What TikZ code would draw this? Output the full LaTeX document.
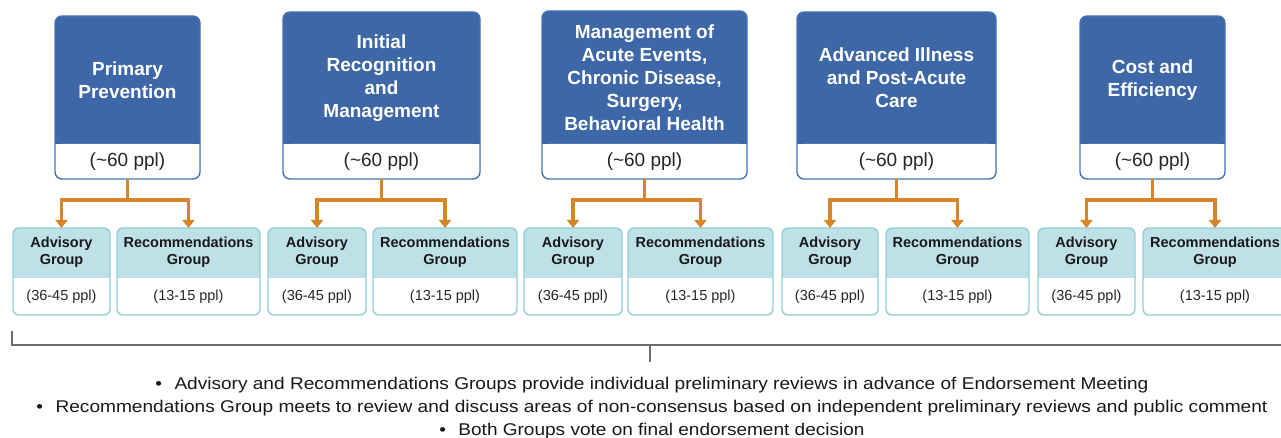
\documentclass[tikz,border=0pt]{standalone}
\usepackage{fontspec}
\setmainfont{Liberation Sans}
\usetikzlibrary{arrows.meta,calc}
\definecolor{topblue}{RGB}{61,103,166}
\definecolor{topedge}{RGB}{72,114,182}
\definecolor{lightfill}{RGB}{190,224,231}
\definecolor{lightedge}{RGB}{150,205,216}
\definecolor{conncol}{RGB}{214,134,40}
\definecolor{brkcol}{RGB}{110,110,110}
\tikzset{
 tbfill/.style={rectangle, fill=topblue, rounded corners=7, outer sep=0pt, inner sep=0pt},
 bbfill/.style={rectangle, fill=lightfill, rounded corners=6, outer sep=0pt, inner sep=0pt},
 ttl/.style={text=white, font=\fontsize{19}{23}\selectfont\bfseries, align=center, inner sep=0pt},
 cnt/.style={font=\fontsize{19}{23}\selectfont, text=black!85, inner sep=0pt},
 bttl/.style={font=\fontsize{14.5}{17}\selectfont\bfseries, text=black!90, align=center, inner sep=0pt},
 bcnt/.style={font=\fontsize{14.5}{17}\selectfont, text=black!85, inner sep=0pt},
 conn/.style={draw=conncol, line width=3.5pt, -{Triangle[width=12pt,length=8pt]}},
 brk/.style={draw=brkcol, line width=1.5pt},
 note/.style={font=\fontsize{17}{20}\selectfont, text=black!90, inner sep=0pt, anchor=base},
}
% #1 name, #2 left, #3 right, #4 top, #5 title
\newcommand\mktop[5]{%
 \node[tbfill, minimum width={#3-#2}, minimum height={179-#4}, anchor=north west] (#1) at (#2,#4) {};
 \fill[white, rounded corners=7] (#1.west |- tdiv) rectangle (#1.south east);
 \fill[white] (#1.west |- tdiv) rectangle (#1.east |- tdivb);
 \draw[topedge, line width=1.4pt, rounded corners=7] (#1.north west) rectangle (#1.south east);
 \node[ttl] (#1l) at ($(#1.north)!0.5!(#1.north |- tdiv)$) {#5};
 \node[cnt] (#1c) at ($(#1.south)!0.5!(#1.south |- tdiv)$) {(\textasciitilde60 ppl)};
}
% #1 name, #2 left, #3 right, #4 title, #5 count
\newcommand\mkbot[5]{%
 \node[bbfill, minimum width={#3-#2}, minimum height=87, anchor=north west] (#1) at (#2,228) {};
 \fill[white, rounded corners=6] (#1.west |- bdiv) rectangle (#1.south east);
 \fill[white] (#1.west |- bdiv) rectangle (#1.east |- bdivb);
 \draw[lightedge, line width=1.4pt, rounded corners=6] (#1.north west) rectangle (#1.south east);
 \node[bttl] (#1l) at ($(#1.north)!0.5!(#1.north |- bdiv)+(0,-1)$) {#4};
 \node[bcnt] (#1c) at ($(#1.south)!0.5!(#1.south |- bdiv)$) {#5};
}
\begin{document}
\begin{tikzpicture}[x=1pt,y=-1pt]
\clip (0,0) rectangle (1281,438);
\fill[white] (0,0) rectangle (1281,438);
\coordinate (tdiv) at (0,144);
\coordinate (tdivb) at (0,154);
\coordinate (bdiv) at (0,278);
\coordinate (bdivb) at (0,288);
\coordinate (hl) at (0,200);

\mktop{t1}{55}{200}{16}{Primary\\Prevention}
\mktop{t2}{283}{480}{12}{Initial\\Recognition\\and\\Management}
\mktop{t3}{542}{747}{11}{Management of\\Acute Events,\\Chronic Disease,\\Surgery,\\Behavioral Health}
\mktop{t4}{797}{996}{12}{Advanced Illness\\and Post-Acute\\Care}
\mktop{t5}{1080}{1225}{16}{Cost and\\Efficiency}

\mkbot{a1}{13}{110}{Advisory\\Group}{(36-45 ppl)}
\mkbot{r1}{117}{260}{Recommendations\\Group}{(13-15 ppl)}
\mkbot{a2}{268}{366}{Advisory\\Group}{(36-45 ppl)}
\mkbot{r2}{373}{517}{Recommendations\\Group}{(13-15 ppl)}
\mkbot{a3}{524}{622}{Advisory\\Group}{(36-45 ppl)}
\mkbot{r3}{628}{773}{Recommendations\\Group}{(13-15 ppl)}
\mkbot{a4}{782}{878}{Advisory\\Group}{(36-45 ppl)}
\mkbot{r4}{886}{1029}{Recommendations\\Group}{(13-15 ppl)}
\mkbot{a5}{1038}{1135}{Advisory\\Group}{(36-45 ppl)}
\mkbot{r5}{1143}{1287}{Recommendations\\Group}{(13-15 ppl)}

\foreach \i in {1,...,5}{
 \draw[conn] (t\i.south) -- (t\i.south |- hl) -| (a\i.north);
 \draw[conn] (t\i.south) -- (t\i.south |- hl) -| (r\i.north);
}

\coordinate (bl) at (12,331);
\coordinate (br) at (1290,345);
\coordinate (bm) at (650,345);
\coordinate (bt) at (650,362);
\draw[brk] (bl) |- (br);
\draw[brk] (bm) -- (bt);

\node[note] (n1) at (652,389) {\resizebox{993pt}{\height}{•\hspace{11pt}Advisory and Recommendations Groups provide individual preliminary reviews in advance of Endorsement Meeting}};
\node[note] (n2) at (652,412) {\resizebox{1231pt}{\height}{•\hspace{11pt}Recommendations Group meets to review and discuss areas of non-consensus based on independent preliminary reviews and public comment}};
\node[note] (n3) at (652,435) {\resizebox{425pt}{\height}{•\hspace{11pt}Both Groups vote on final endorsement decision}};
\end{tikzpicture}
\end{document}
